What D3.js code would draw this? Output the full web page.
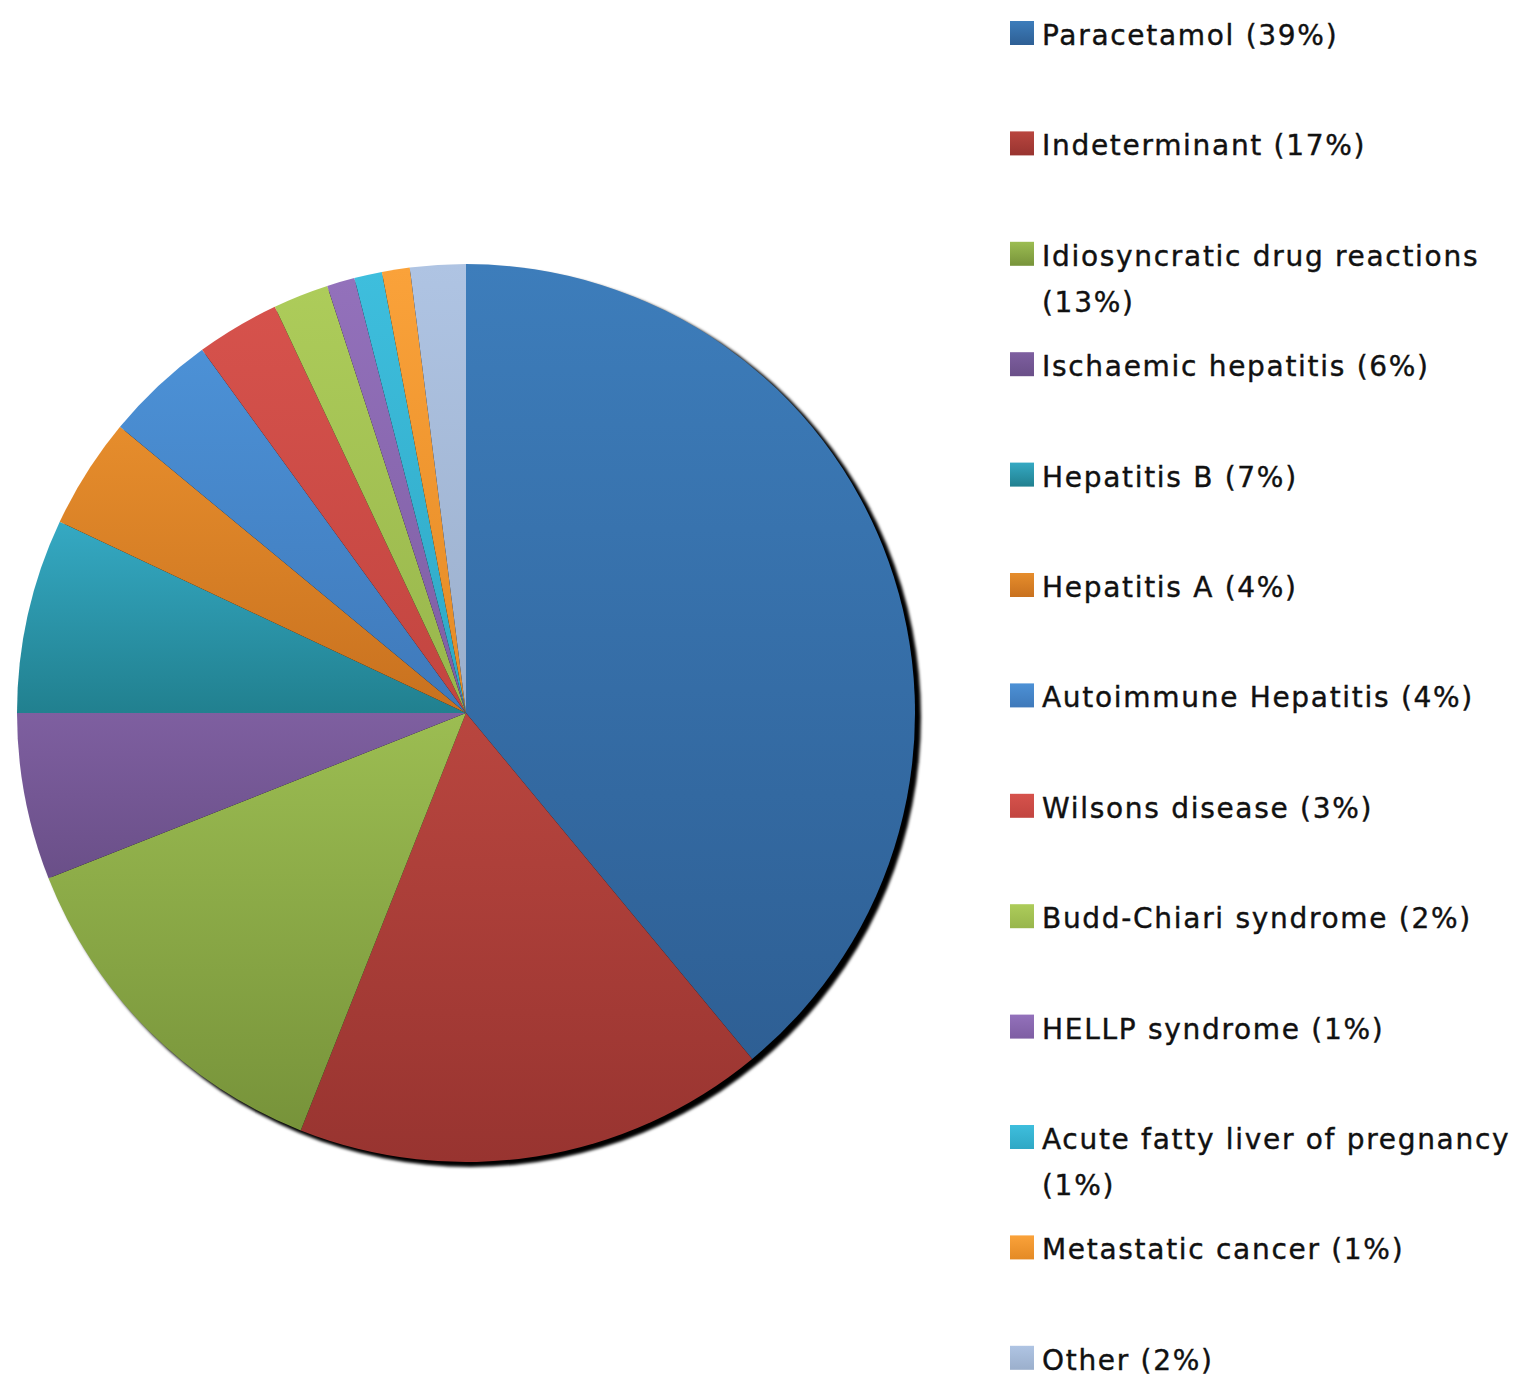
<!DOCTYPE html>
<html><head><meta charset="utf-8">
<script src="https://cdn.jsdelivr.net/npm/d3@7"></script>
<style>html,body{margin:0;padding:0;background:#fff;}svg{display:block;}</style>
</head><body>
<svg id="chart" width="1517" height="1376"></svg>
<script>
const categories = ["Paracetamol (39%)","Indeterminant (17%)","Idiosyncratic drug reactions (13%)","Ischaemic hepatitis (6%)","Hepatitis B (7%)","Hepatitis A (4%)","Autoimmune Hepatitis (4%)","Wilsons disease (3%)","Budd-Chiari syndrome (2%)","HELLP syndrome (1%)","Acute fatty liver of pregnancy (1%)","Metastatic cancer (1%)","Other (2%)"];
const legendLines = [["Paracetamol (39%)"],["Indeterminant (17%)"],["Idiosyncratic drug reactions","(13%)"],["Ischaemic hepatitis (6%)"],["Hepatitis B (7%)"],["Hepatitis A (4%)"],["Autoimmune Hepatitis (4%)"],["Wilsons disease (3%)"],["Budd-Chiari syndrome (2%)"],["HELLP syndrome (1%)"],["Acute fatty liver of pregnancy","(1%)"],["Metastatic cancer (1%)"],["Other (2%)"]];
const values = [39,17,13,6,7,4,4,3,2,1,1,1,2];
const topColors = ["#3D7DBB","#B9463F","#9CBD52","#7E5FA0","#35A9C3","#E68D2C","#4C91D6","#D6524C","#ADCC5A","#9371BB","#3EBEDD","#FAA23A","#AFC4E3"];
const bottomColors = ["#2E5F94","#983430","#77933A","#6A4F88","#21808F","#C8711F","#3F79BA","#C24540","#98B64C","#7E5EA3","#2FA8C5","#E48A25","#9BAFCC"];

const svg = d3.select("#chart");
const defs = svg.append("defs");
categories.forEach((c,i)=>{
  const g = defs.append("linearGradient").attr("id","g"+i).attr("x1",0).attr("y1",0).attr("x2",0).attr("y2",1);
  g.append("stop").attr("offset","0%").attr("stop-color",topColors[i]);
  g.append("stop").attr("offset","100%").attr("stop-color",bottomColors[i]);
});
const f = defs.append("filter").attr("id","shadow").attr("x","-10%").attr("y","-10%").attr("width","120%").attr("height","120%");
f.append("feGaussianBlur").attr("stdDeviation",1.6);

const cx = 466, cy = 713, R = 449;
const gPie = svg.append("g").attr("transform",`translate(${cx},${cy})`);
const pie = d3.pie().sort(null).value(d=>d);
const arcs = pie(values);
const arc = d3.arc().innerRadius(0).outerRadius(R);

gPie.append("circle").attr("cx",5).attr("cy",4).attr("r",R+1).attr("fill","#000").attr("filter","url(#shadow)");
gPie.selectAll("path.slice").data(arcs).enter().append("path")
  .attr("class","slice")
  .attr("d",arc)
  .attr("fill",(d,i)=>`url(#g${i})`);

const legend = svg.append("g");
const step = 110.4, y0 = 33;
const items = legend.selectAll("g.item").data(categories).enter().append("g").attr("class","item")
  .attr("transform",(d,i)=>`translate(1010,${y0 + i*step})`);
items.append("rect").attr("x",0).attr("y",-12).attr("width",24).attr("height",24)
  .attr("fill",(d,i)=>`url(#g${i})`);
items.each(function(d,i){
  const t = d3.select(this).append("text").attr("x",32).attr("y",12)
    .attr("font-family","DejaVu Sans, sans-serif").attr("font-size",28)
    .attr("letter-spacing",1.7).attr("fill","#111").attr("stroke","#111").attr("stroke-width",0.4);
  legendLines[i].forEach((line,j)=>{
    t.append("tspan").attr("x",32).attr("dy", j===0?0:46).text(line);
  });
});
</script>
</body></html>
